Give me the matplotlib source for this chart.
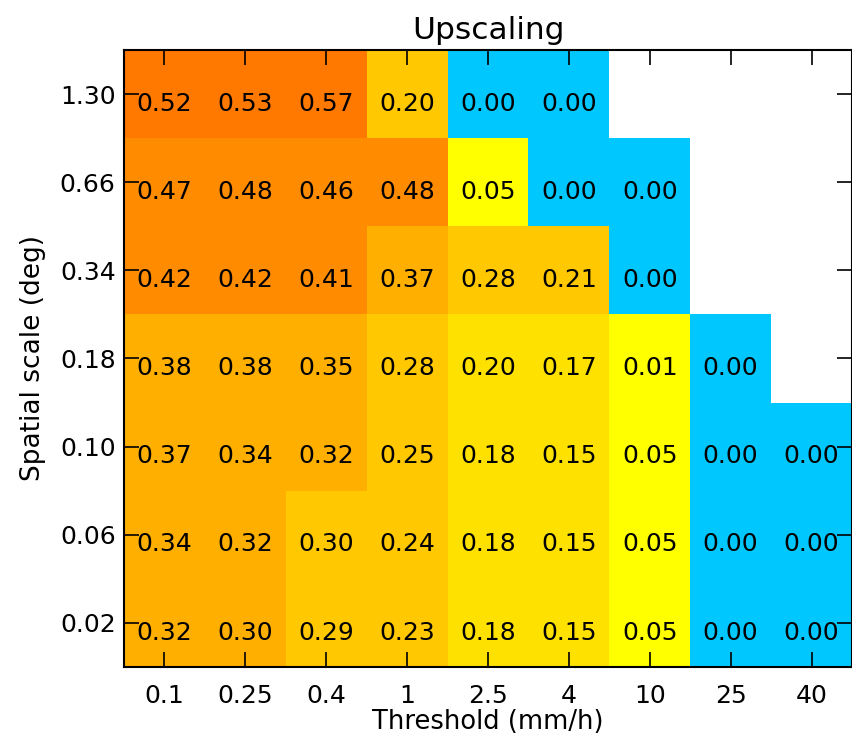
import numpy as np
import matplotlib
matplotlib.use('Agg')
import matplotlib.pyplot as plt
from matplotlib.colors import ListedColormap, BoundaryNorm

# thresholds (x) and spatial scales (y, bottom to top)
thresholds = ['0.1', '0.25', '0.4', '1', '2.5', '4', '10', '25', '40']
scales = ['0.02', '0.06', '0.10', '0.18', '0.34', '0.66', '1.30']

nan = np.nan
# rows from bottom (0.02) to top (1.30)
row_002 = [0.32, 0.302, 0.29, 0.23, 0.18, 0.15, 0.05, 0.00, 0.00]
row_006 = [0.34, 0.32, 0.298, 0.24, 0.18, 0.15, 0.05, 0.00, 0.00]
row_010 = [0.37, 0.34, 0.32, 0.25, 0.18, 0.15, 0.05, 0.00, 0.00]
row_018 = [0.38, 0.38, 0.35, 0.28, 0.199, 0.17, 0.01, 0.00, nan]
row_034 = [0.42, 0.42, 0.41, 0.37, 0.28, 0.21, 0.00, nan, nan]
row_066 = [0.47, 0.48, 0.46, 0.48, 0.05, 0.00, 0.00, nan, nan]
row_130 = [0.52, 0.53, 0.57, 0.201, 0.00, 0.00, nan, nan, nan]

vals = np.array([row_002, row_006, row_010, row_018, row_034, row_066, row_130])

colors = ['#00c8ff', '#ffff00', '#ffe100', '#ffc800', '#ffaf00', '#ff8c00', '#ff7800']
bounds = [-0.01, 0.005, 0.1, 0.2, 0.3, 0.4, 0.5, 0.6]
cmap = ListedColormap(colors)
norm = BoundaryNorm(bounds, cmap.N)

fig = plt.figure(figsize=(8.53, 7.41), dpi=100)
ax = fig.add_axes([0.1454, 0.0999, 0.8534, 0.8326])

ax.pcolormesh(np.arange(len(thresholds) + 1) - 0.5, np.arange(len(scales) + 1) - 0.5,
              np.ma.masked_invalid(vals), cmap=cmap, norm=norm)

for i in range(vals.shape[0]):
    for j in range(vals.shape[1]):
        v = vals[i, j]
        if np.isnan(v):
            continue
        ax.annotate('%.2f' % v, (j, i), xytext=(0, -7), textcoords='offset points',
                    ha='center', va='center', fontsize=18)

ax.set_xlim(-0.5, len(thresholds) - 0.5)
ax.set_ylim(-0.5, len(scales) - 0.5)
ax.set_xticks(range(len(thresholds)))
ax.set_xticklabels(thresholds)
ax.set_yticks(range(len(scales)))
ax.set_yticklabels(scales)
ax.tick_params(direction='in', length=11, width=1.2, top=True, right=True,
               labelsize=18)
ax.tick_params(axis='x', pad=12)
ax.tick_params(axis='y', pad=6)
for s in ax.spines.values():
    s.set_linewidth(1.5)

ax.set_title('Upscaling', fontsize=22.5, pad=8)
ax.set_xlabel('Threshold (mm/h)', fontsize=18.5, labelpad=1)
ax.set_ylabel('Spatial scale (deg)', fontsize=19, labelpad=10)

fig.savefig('out.png', dpi=100)
